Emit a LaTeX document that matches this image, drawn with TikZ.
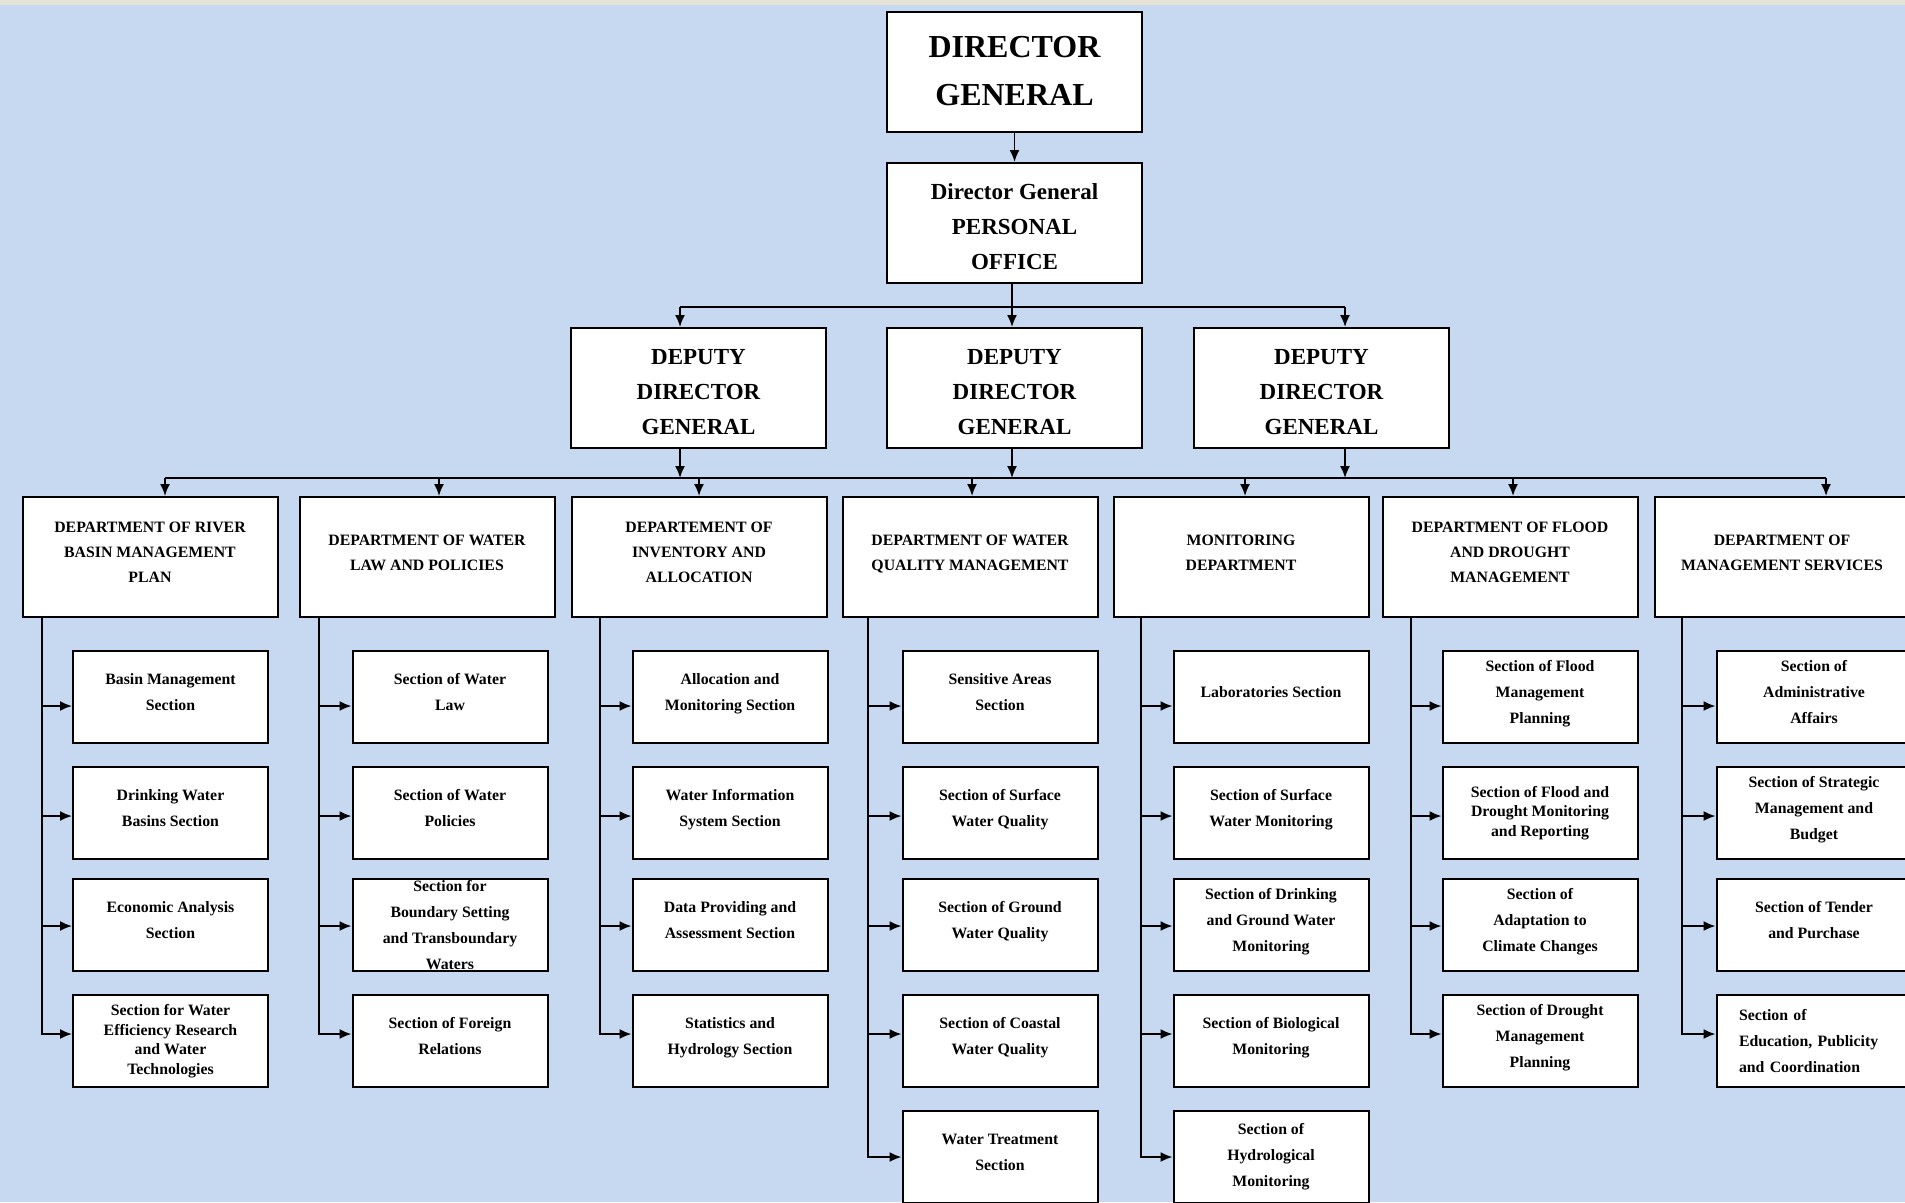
\documentclass[tikz,border=0pt]{standalone}
\usepackage{fontspec}
\setmainfont{Liberation Serif}
\usetikzlibrary{arrows.meta}

\definecolor{paper}{HTML}{C6D9F0}
\definecolor{strip}{HTML}{E6E2D6}

\begin{document}
\begin{tikzpicture}[x=1pt, y=-1pt,
    box/.style={draw, line width=2pt, fill=white, align=center, inner sep=0pt},
    chief/.style={box, minimum width=255pt, minimum height=120pt, font=\bfseries\fontsize{32}{48}\selectfont},
    office/.style={box, minimum width=255pt, minimum height=120pt, text height=93pt, font=\bfseries\fontsize{23}{35}\selectfont},
    dept/.style={box, minimum width=255pt, minimum height=120pt, text depth=9pt, font=\bfseries\fontsize{15.8}{25}\selectfont},
    sectbase/.style={box, minimum width=195pt, minimum height=92pt, font=\bfseries\fontsize{15.8}{26}\selectfont},
    sect/.style={sectbase, text depth=10pt},
    secttight/.style={sectbase, font=\bfseries\fontsize{15.8}{19.5}\selectfont},
    link/.style={line width=1.8pt},
    arr/.style={link, -{Latex[length=12pt, width=10pt]}}]

        \useasboundingbox (0,0) rectangle (1905,1202);
        \clip (0,0) rectangle (1905,1202);
        \fill[paper] (0,0) rectangle (1905,1202);
        \fill[strip] (0,0) rectangle (1905,5);

        % Top of the chart
        \node[chief] (dg) at (1014.5,71.5) {DIRECTOR\\GENERAL};
        \node[office] (po) at (1014.5,223) {Director General\\PERSONAL\\OFFICE};

        % Deputies
        \foreach \i/\x in {1/698.5, 2/1014.5, 3/1321.5} {
            \node[office] (dep\i) at (\x,388) {DEPUTY\\DIRECTOR\\GENERAL};
        }

        % Departments
        \foreach \i/\x/\txt in {1/150/{DEPARTMENT OF RIVER\\BASIN MANAGEMENT\\PLAN},
                                2/427/{DEPARTMENT OF WATER\\LAW AND POLICIES},
                                3/699/{DEPARTEMENT OF\\INVENTORY AND\\ALLOCATION},
                                4/970/{DEPARTMENT OF WATER\\QUALITY MANAGEMENT},
                                5/1241/{MONITORING\\DEPARTMENT},
                                6/1510/{DEPARTMENT OF FLOOD\\AND DROUGHT\\MANAGEMENT},
                                7/1782/{DEPARTMENT OF\\MANAGEMENT SERVICES}} {
            \node[dept] (d\i) at (\x,557) {\txt};
        }

        % Sections, one column per department
        \foreach \r/\y/\txt in {1/697/{Basin Management\\Section}, 2/813/{Drinking Water\\Basins Section},
                                3/925/{Economic Analysis\\Section}} {
            \node[sect] (s1\r) at (170.5,\y) {\txt};
        }
        \node[secttight] (s14) at (170.5,1041) {Section for Water\\Efficiency Research\\and Water\\Technologies};

        \foreach \r/\y/\txt in {1/697/{Section of Water\\Law}, 2/813/{Section of Water\\Policies},
                                4/1041/{Section of Foreign\\Relations}} {
            \node[sect] (s2\r) at (450,\y) {\txt};
        }
        \node[sectbase] (s23) at (450,925) {Section for\\Boundary Setting\\and Transboundary\\Waters};

        \foreach \r/\y/\txt in {1/697/{Allocation and\\Monitoring Section}, 2/813/{Water Information\\System Section},
                                3/925/{Data Providing and\\Assessment Section}, 4/1041/{Statistics and\\Hydrology Section}} {
            \node[sect] (s3\r) at (730,\y) {\txt};
        }

        \foreach \r/\y/\txt in {1/697/{Sensitive Areas\\Section}, 2/813/{Section of Surface\\Water Quality},
                                3/925/{Section of Ground\\Water Quality}, 4/1041/{Section of Coastal\\Water Quality},
                                5/1157/{Water Treatment\\Section}} {
            \node[sect] (s4\r) at (1000,\y) {\txt};
        }

        \foreach \r/\y/\txt in {1/697/{Laboratories Section}, 2/813/{Section of Surface\\Water Monitoring},
                                3/925/{Section of Drinking\\and Ground Water\\Monitoring},
                                4/1041/{Section of Biological\\Monitoring}} {
            \node[sect] (s5\r) at (1271,\y) {\txt};
        }
        \node[sectbase] (s55) at (1271,1157) {Section of\\Hydrological\\Monitoring};

        \foreach \r/\y/\txt in {1/697/{Section of Flood\\Management\\Planning}, 3/925/{Section of\\Adaptation to\\Climate Changes},
                                4/1041/{Section of Drought\\Management\\Planning}} {
            \node[sect] (s6\r) at (1540,\y) {\txt};
        }
        \node[secttight] (s62) at (1540,813) {Section of Flood and\\Drought Monitoring\\and Reporting};

        \foreach \r/\y/\txt in {1/697/{Section of\\Administrative\\Affairs}, 2/813/{Section of Strategic\\Management and\\Budget},
                                3/925/{Section of Tender\\and Purchase}} {
            \node[sect] (s7\r) at (1814,\y) {\txt};
        }
        \node[sectbase, align=left, text width=150pt] (s74) at (1814,1041) {Section of\\Education, Publicity\\and Coordination};

        % Junction points on the bars
        \foreach \i/\x in {1/680, 2/1012, 3/1345} {
            \coordinate (u\i) at (\x,307);
            \coordinate (w\i) at (\x,478);
        }
        \foreach \i/\x in {1/165, 2/439, 3/699, 4/972, 5/1245, 6/1513, 7/1826} {
            \coordinate (v\i) at (\x,478);
        }
        \foreach \c/\x in {1/42, 2/319, 3/600, 4/868, 5/1141, 6/1411, 7/1682} {
            \coordinate (t\c) at (\x,617);
        }

        % Connect the top levels
        \draw[arr] (dg.south) -- (po.north);
        \draw[link] (u2 |- po.south) -- (u2);
        \draw[link] (u1) -- (u3);
        \foreach \i in {1,2,3} {
            \draw[arr] (u\i) -- (u\i |- dep\i.north);
            \draw[arr] (w\i |- dep\i.south) -- (w\i);
        }
        \draw[link] (v1) -- (v7);
        \foreach \i in {1,...,7} {
            \draw[arr] (v\i) -- (v\i |- d\i.north);
        }

        % Connect each department to its sections
        \foreach \c in {1,...,7} {
            \foreach \r/\dy in {1/-9, 2/-3, 3/-1, 4/7} {
                \draw[arr] (t\c) |- ([yshift=\dy pt]s\c\r.west);
            }
        }
        \foreach \c in {4,5} {
            \draw[arr] (t\c) |- (s\c5.west);
        }
    \end{tikzpicture}
\end{document}
